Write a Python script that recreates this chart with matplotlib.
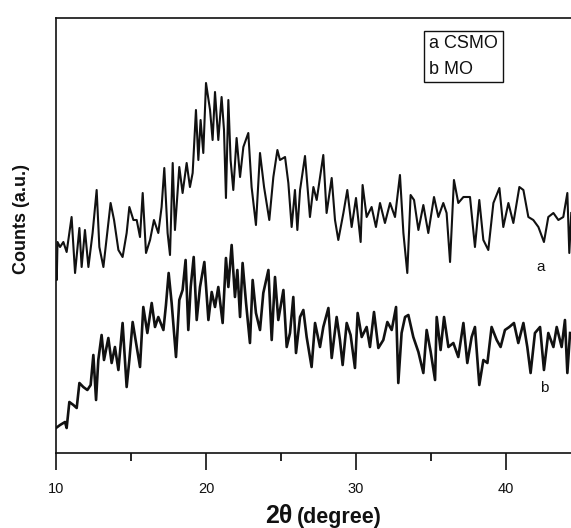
import matplotlib
matplotlib.use("Agg")
import matplotlib.pyplot as plt
from matplotlib.patches import Rectangle
from matplotlib.ticker import MultipleLocator

plt.rcParams['font.family'] = ['Liberation Sans', 'DejaVu Sans']

# ---- data (2theta in degrees, counts in arbitrary units) ----
theta_a = [10.0, 10.05, 10.1, 10.27, 10.49, 10.71, 11.04, 11.27, 11.56, 11.71, 11.93, 12.16,
           12.44, 12.71, 12.89, 13.16, 13.64, 13.87, 14.16, 14.44, 14.71, 14.89, 15.16, 15.38,
           15.6, 15.78, 16.0, 16.27, 16.53, 16.82, 17.04, 17.22, 17.44, 17.6, 17.78, 17.93,
           18.22, 18.44, 18.71, 18.93, 19.11, 19.33, 19.49, 19.64, 19.82, 20.0, 20.27, 20.44,
           20.6, 20.82, 21.04, 21.2, 21.33, 21.49, 21.64, 21.82, 22.04, 22.27, 22.49, 22.82,
           23.04, 23.33, 23.6, 23.87, 24.22, 24.49, 24.76, 24.93, 25.27, 25.49, 25.71, 25.93,
           26.09, 26.27, 26.6, 26.93, 27.16, 27.38, 27.82, 28.04, 28.38, 28.6, 28.82, 29.16,
           29.42, 29.71, 30.0, 30.31, 30.44, 30.71, 31.04, 31.33, 31.6, 31.93, 32.27, 32.6,
           32.93, 33.16, 33.42, 33.64, 33.87, 34.16, 34.49, 34.82, 35.2, 35.49, 35.82, 36.04,
           36.27, 36.53, 36.82, 37.16, 37.6, 37.93, 38.22, 38.49, 38.82, 39.16, 39.56, 39.82,
           40.16, 40.49, 40.89, 41.16, 41.49, 41.82, 42.16, 42.53, 42.82, 43.16, 43.49, 43.82,
           44.09, 44.22, 44.35]
counts_a = [190, 173, 211, 206, 211, 201, 236, 180, 225, 186, 223, 186,
            220, 263, 206, 186, 250, 233, 203, 196, 220, 246, 233, 233,
            216, 260, 200, 213, 233, 220, 246, 285, 220, 198, 290, 223,
            286, 260, 290, 266, 280, 343, 293, 333, 300, 370, 343, 313,
            361, 313, 356, 323, 255, 353, 293, 263, 315, 276, 306, 320,
            266, 228, 300, 266, 233, 276, 303, 293, 296, 270, 226, 263,
            223, 263, 297, 236, 266, 253, 298, 240, 275, 233, 213, 240,
            263, 226, 255, 211, 268, 236, 246, 226, 250, 230, 250, 236,
            278, 220, 180, 258, 253, 223, 248, 220, 256, 236, 250, 240,
            191, 273, 250, 256, 256, 206, 253, 213, 203, 250, 265, 226,
            250, 230, 266, 263, 236, 233, 226, 211, 236, 240, 233, 236,
            260, 200, 240]

theta_b = [10.0, 10.27, 10.6, 10.71, 10.89, 11.16, 11.38, 11.56, 11.82, 12.09, 12.31, 12.49,
           12.67, 12.82, 13.04, 13.2, 13.49, 13.71, 13.93, 14.16, 14.44, 14.71, 14.89, 15.11,
           15.38, 15.6, 15.82, 16.09, 16.38, 16.6, 16.82, 17.16, 17.33, 17.51, 17.71, 17.87,
           18.0, 18.22, 18.44, 18.64, 18.82, 18.98, 19.18, 19.38, 19.6, 19.89, 20.16, 20.38,
           20.6, 20.82, 21.11, 21.33, 21.49, 21.71, 21.93, 22.09, 22.27, 22.44, 22.67, 22.93,
           23.11, 23.33, 23.6, 23.82, 24.16, 24.38, 24.6, 24.82, 25.16, 25.38, 25.6, 25.82,
           26.0, 26.27, 26.49, 26.71, 27.04, 27.27, 27.6, 27.82, 28.16, 28.38, 28.71, 28.93,
           29.11, 29.38, 29.64, 29.93, 30.11, 30.38, 30.71, 30.93, 31.2, 31.49, 31.82, 32.09,
           32.38, 32.67, 32.82, 33.04, 33.27, 33.49, 33.82, 34.16, 34.49, 34.71, 34.98, 35.27,
           35.38, 35.64, 35.87, 36.16, 36.49, 36.82, 37.16, 37.42, 37.71, 37.93, 38.22, 38.49,
           38.76, 39.04, 39.38, 39.64, 39.93, 40.22, 40.53, 40.82, 41.16, 41.42, 41.64, 41.93,
           42.27, 42.53, 42.82, 43.16, 43.38, 43.71, 43.93, 44.09, 44.27]
counts_b = [25, 28, 31, 25, 51, 48, 45, 70, 66, 63, 68, 98,
            53, 93, 118, 93, 115, 90, 106, 83, 130, 66, 93, 131,
            106, 86, 146, 120, 150, 126, 136, 123, 148, 180, 150, 120,
            96, 153, 163, 193, 123, 166, 196, 133, 166, 191, 133, 161,
            146, 166, 130, 195, 166, 208, 156, 183, 136, 190, 150, 110,
            173, 140, 123, 160, 183, 113, 176, 133, 163, 106, 120, 156,
            100, 136, 143, 116, 86, 130, 106, 126, 145, 95, 136, 113,
            88, 130, 118, 85, 140, 116, 126, 106, 141, 105, 113, 131,
            123, 146, 70, 120, 136, 138, 116, 101, 80, 123, 101, 73,
            136, 103, 136, 106, 110, 96, 130, 90, 116, 126, 68, 93,
            90, 126, 113, 106, 123, 126, 130, 110, 130, 106, 80, 120,
            126, 83, 120, 106, 126, 106, 133, 80, 120]

legend_lines = ["a CSMO", "b MO"]
curve_labels = ["a", "b"]

# ---- figure ----
W, H = 571, 528
fig = plt.figure(figsize=(W / 100, H / 100), dpi=100)
ax = fig.add_axes([56 / W, (H - 453) / H, (596 - 56) / W, (453 - 18) / H])

ink = "#111111"
ax.plot(theta_a, counts_a, color=ink, lw=1.5)
ax.plot(theta_b, counts_b, color=ink, lw=1.9)

ax.set_xlim(10, 46)
ax.set_ylim(0, 435)

ax.xaxis.set_major_locator(MultipleLocator(10))
ax.xaxis.set_minor_locator(MultipleLocator(5))
ax.set_yticks([])
ax.tick_params(axis='x', which='major', direction='out', length=12, width=1.2,
               pad=9, labelsize=10.5, colors=ink)
ax.tick_params(axis='x', which='minor', direction='out', length=6, width=1.2)
for s in ['top', 'left', 'bottom', 'right']:
    ax.spines[s].set_linewidth(1.2)
    ax.spines[s].set_color(ink)

# axis labels
fig.text(22 / W, (H - 219) / H, "Counts (a.u.)", rotation=90, ha='center', va='center',
         fontsize=13, fontweight='bold', color=ink)
fig.text(292 / W, (H - 523) / H, "2θ", ha='right', va='baseline',
         fontsize=18, fontweight='bold', color=ink)
fig.text(297 / W, (H - 523) / H, "(degree)", ha='left', va='baseline',
         fontsize=15.5, fontweight='bold', color=ink)

# legend box
fig.patches.append(Rectangle((424 / W, (H - 81.5) / H), 79 / W, 50.5 / H,
                             transform=fig.transFigure, fill=False, lw=1.0,
                             edgecolor=ink))
fig.text(429 / W, (H - 44) / H, legend_lines[0], ha='left', va='center', fontsize=13, color=ink)
fig.text(429 / W, (H - 70) / H, legend_lines[1], ha='left', va='center', fontsize=13, color=ink)

# curve labels
fig.text(541 / W, (H - 267) / H, curve_labels[0], ha='center', va='center', fontsize=11, color=ink)
fig.text(544 / W, (H - 388) / H, curve_labels[1], ha='center', va='center', fontsize=11, color=ink)

fig.savefig("out.png", dpi=100)
